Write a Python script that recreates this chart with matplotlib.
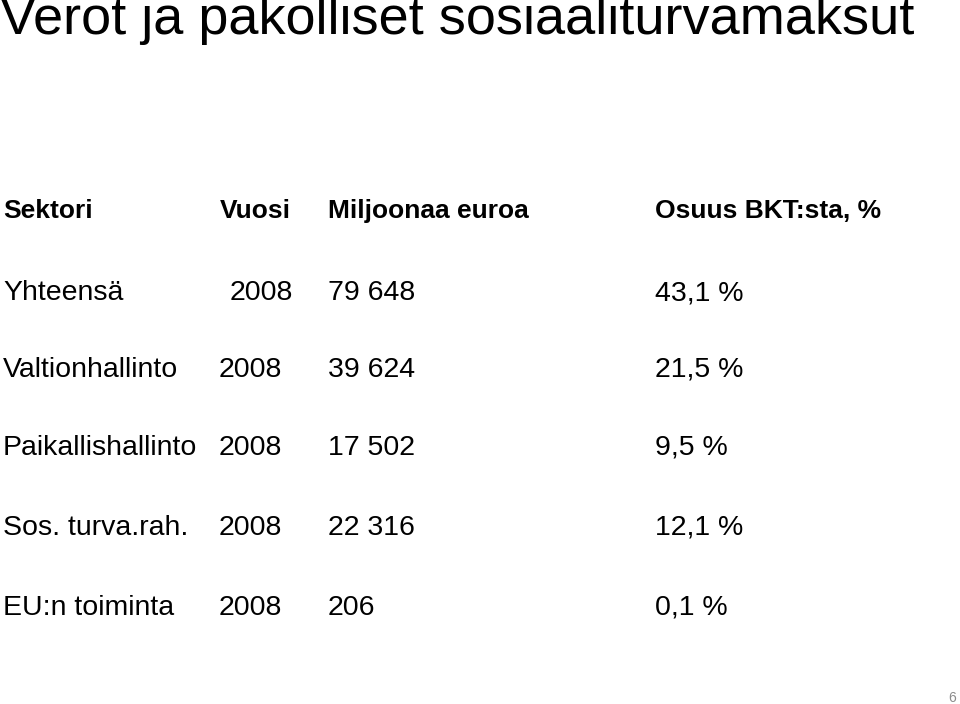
import matplotlib
matplotlib.use("Agg")
import matplotlib.pyplot as plt

title = "Verot ja pakolliset sosiaaliturvamaksut"
headers = ["Sektori", "Vuosi", "Miljoonaa euroa", "Osuus BKT:sta, %"]
sectors = ["Yhteensä", "Valtionhallinto", "Paikallishallinto", "Sos. turva.rah.", "EU:n toiminta"]
years = ["2008", "2008", "2008", "2008", "2008"]
millions = ["79 648", "39 624", "17 502", "22 316", "206"]
shares = ["43,1 %", "21,5 %", "9,5 %", "12,1 %", "0,1 %"]

W, H = 960, 704
fig = plt.figure(figsize=(9.6, 7.04), dpi=100)
fam = "Liberation Sans"

def t(x, y, s, **kw):
    fig.text(x / W, 1 - y / H, s, family=fam, va="baseline", **kw)

t(0, 34, title, fontsize=39)
hx = [3, 220, 328, 655]
for x, s in zip(hx, headers):
    t(x, 218, s, fontsize=19, fontweight="bold")
rows_y = [300, 377, 455, 535, 615]
for i, y in enumerate(rows_y):
    t(3, y, sectors[i], fontsize=20.5)
    t(293 if i == 0 else 219, y, years[i], fontsize=20.5, ha="right" if i == 0 else "left")
    t(328, y, millions[i], fontsize=20.5)
    t(655, y, shares[i], fontsize=20.5)
t(948, 702, "6", fontsize=10, color="#8c8c8c")
fig.savefig("out.png", dpi=100)
